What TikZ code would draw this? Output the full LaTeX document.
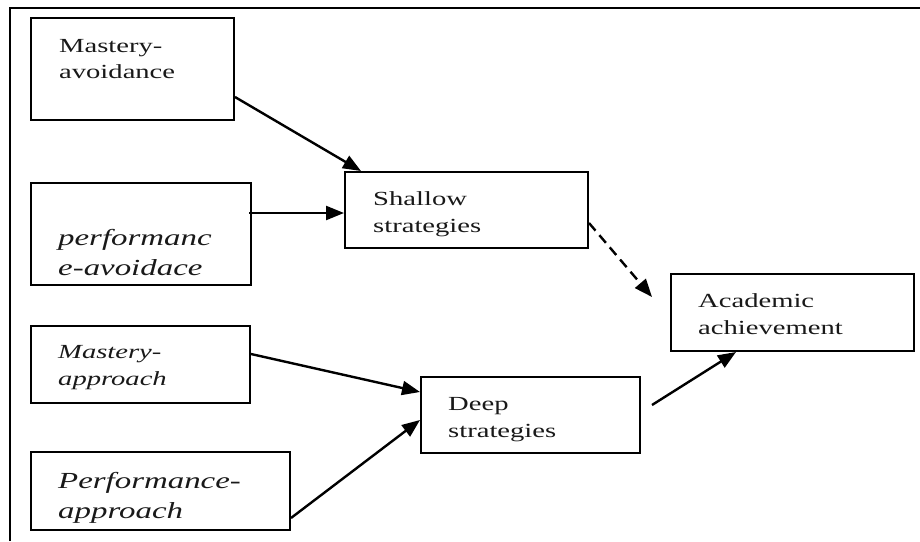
\documentclass[tikz,border=0pt]{standalone}
\usepackage{fontspec}
\setmainfont{Liberation Serif}
\usetikzlibrary{arrows.meta}

% horizontally widened two-line label: size, line skip, first line, second line
\newcommand{\widelabel}[4]{%
  \scalebox{1.43}[1]{\fontsize{#1}{#2}\selectfont
    \begin{tabular}[t]{@{}l@{}}#3\\#4\end{tabular}}}

\begin{document}
\begin{tikzpicture}[x=1pt,y=-1pt,
  box/.style={draw=black, line width=2pt, fill=none, inner sep=0pt},
  lbl/.style={anchor=base west, inner sep=0pt, text=black!90},
  link/.style={line width=2.4pt, -{Triangle[length=18pt,width=14pt]}},
  dlink/.style={link, dash pattern=on 10pt off 6pt}]

\useasboundingbox (0,0) rectangle (920,541);
\fill[white] (0,0) rectangle (920,541);

% outer frame (top and left edges)
\draw[line width=1.8pt] (10,541) -- (10,8) -- (920,8);

% boxes
\node[box, minimum width=203pt, minimum height=102pt] (ma)  at (132.5,69)  {};
\node[box, minimum width=220pt, minimum height=102pt] (pav) at (141,234)   {};
\node[box, minimum width=243pt, minimum height=76pt]  (ss)  at (466.5,210) {};
\node[box, minimum width=243pt, minimum height=77pt]  (aa)  at (792.5,312.5) {};
\node[box, minimum width=219pt, minimum height=76pt]  (ds)  at (530.5,415) {};
\node[box, minimum width=219pt, minimum height=77pt]  (map) at (140.5,364.5) {};
\node[box, minimum width=259pt, minimum height=78pt]  (pap) at (160.5,491) {};

% labels
\node[lbl] (maT)  at (59,52)  {\widelabel{20}{26}{Mastery-}{avoidance}};
\node[lbl] (pavT) at (58,245) {\widelabel{23}{30}{\itshape performanc}{\itshape e-avoidace}};
\node[lbl] (ssT)  at (373,205) {\widelabel{20}{27}{Shallow}{strategies}};
\node[lbl] (aaT)  at (698,307) {\widelabel{20}{27}{Academic}{achievement}};
\node[lbl] (dsT)  at (448,410) {\widelabel{20}{27}{Deep}{strategies}};
\node[lbl] (mapT) at (58,358) {\widelabel{20}{27}{\itshape Mastery-}{\itshape approach}};
\node[lbl] (papT) at (58,488) {\widelabel{23}{30}{\itshape Performance-}{\itshape approach}};

% connector end points
\coordinate (dsOut) at (652,405);
\coordinate (aaIn)  at (652,297);

% connectors
\draw[link]  ([yshift=-28pt]ma.east) -- ([xshift=17pt]ss.north west);
\draw[link]  ([shift={(-3pt,21pt)}]pav.east) -- ([yshift=-3pt]ss.west);
\draw[dlink] ([yshift=-13pt]ss.east) -- (aaIn);
\draw[link]  ([yshift=10.5pt]map.east) -- ([yshift=23pt]ds.west);
\draw[link]  ([yshift=-27pt]pap.east) -- ([yshift=-5pt]ds.west);
\draw[link]  (dsOut) -- ([xshift=66pt]aa.south west);

\end{tikzpicture}
\end{document}
